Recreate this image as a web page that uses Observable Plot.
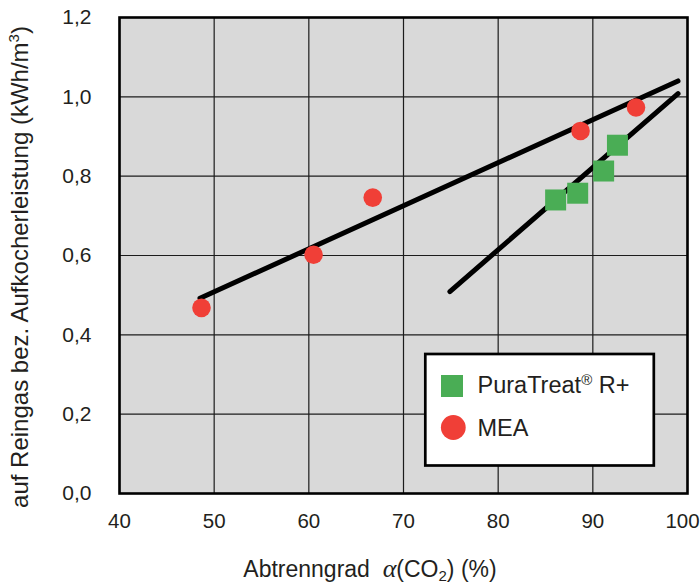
<!DOCTYPE html>
<html><head><meta charset="utf-8">
<script src="https://cdn.jsdelivr.net/npm/d3@7"></script>
<script src="https://cdn.jsdelivr.net/npm/@observablehq/plot@0.6"></script>
<style>
body{margin:0;background:#fff;}
svg{font-family:"Liberation Sans",Arial,Helvetica,sans-serif;}
</style>
</head><body><div id="chart"></div>
<script>
// ---- data ----
const xTicks = [40, 50, 60, 70, 80, 90, 100];
const yTicks = [0, 0.2, 0.4, 0.6, 0.8, 1.0, 1.2];
const seriesNames = ["PuraTreat® R+", "MEA"];
const seriesColors = ["#4aad55", "#f03f37"];
const puraX = [86.07, 88.4, 91.14, 92.6];
const puraY = [0.740, 0.757, 0.813, 0.878];
const meaX = [48.66, 60.5, 66.75, 88.7, 94.56];
const meaY = [0.468, 0.602, 0.746, 0.914, 0.973];
const puraFitX = [74.9, 99.0];
const puraFitY = [0.509, 1.008];
const meaFitX = [48.5, 99.0];
const meaFitY = [0.492, 1.040];

const pura = puraX.map((x, i) => ({x, y: puraY[i]}));
const mea = meaX.map((x, i) => ({x, y: meaY[i]}));
const puraFit = puraFitX.map((x, i) => ({x, y: puraFitY[i]}));
const meaFit = meaFitX.map((x, i) => ({x, y: meaFitY[i]}));

const W = 700, H = 583, mL = 119, mR = 13, mT = 17, mB = 90;
const ink = "#231f20";

const chart = Plot.plot({
  width: W, height: H,
  marginLeft: mL, marginRight: mR, marginTop: mT, marginBottom: mB,
  x: {domain: [40, 100]},
  y: {domain: [0, 1.2]},
  style: {background: "#fff", color: ink, overflow: "visible"},
  marks: [
    Plot.frame({fill: "#d9d9d9", stroke: null}),
    Plot.ruleX(xTicks, {stroke: "#1c1c1c", strokeWidth: 1.2}),
    Plot.ruleY(yTicks, {stroke: "#1c1c1c", strokeWidth: 1.2}),
    Plot.line(meaFit, {x: "x", y: "y", stroke: "#000", strokeWidth: 5, strokeLinecap: "round"}),
    Plot.line(puraFit, {x: "x", y: "y", stroke: "#000", strokeWidth: 5, strokeLinecap: "round"}),
    Plot.dot(pura, {x: "x", y: "y", symbol: "square", r: 11.85, fill: seriesColors[0]}),
    Plot.dot(mea, {x: "x", y: "y", r: 9.3, fill: seriesColors[1]}),
    Plot.frame({stroke: "#000", strokeWidth: 2.6}),
    Plot.axisX({ticks: xTicks.slice(0, -1), tickSize: 0, tickPadding: 20, fontSize: 20.5, label: null, fill: ink}),
    Plot.axisX({ticks: xTicks.slice(-1), tickSize: 0, tickPadding: 20, fontSize: 20.5, label: null, fill: ink, dx: -5}),
    Plot.axisY({ticks: yTicks, tickSize: 0, tickPadding: 28, fontSize: 21, label: null, fill: ink,
      tickFormat: d => d.toFixed(1).replace(".", ",")})
  ]
});

document.getElementById("chart").appendChild(chart);

const svg = d3.select(chart);

// x-axis title
const xt = svg.append("text")
  .attr("x", 370).attr("y", 577)
  .attr("text-anchor", "middle")
  .attr("font-size", 23).attr("fill", ink);
xt.append("tspan").text("Abtrenngrad\u00a0 ");
xt.append("tspan").attr("font-family", "'Liberation Serif','Times New Roman',serif").attr("font-style", "italic").attr("font-size", 26).text("α");
xt.append("tspan").text("(CO");
xt.append("tspan").attr("font-size", 15).attr("dy", 3.5).text("2");
xt.append("tspan").attr("dy", -3.5).text(") (%)");

// y-axis title
const yt = svg.append("text")
  .attr("transform", "translate(28,267) rotate(-90)")
  .attr("text-anchor", "middle")
  .attr("font-size", 24).attr("fill", ink);
yt.append("tspan").text("auf Reingas bez. Aufkocherleistung (kWh/m");
yt.append("tspan").attr("font-size", 15).attr("dy", -9).text("3");
yt.append("tspan").attr("dy", 9).text(")");

// legend
const lg = svg.append("g").attr("text-anchor", "start");
lg.append("rect").attr("x", 425.3).attr("y", 354).attr("width", 228.5).attr("height", 111.5)
  .attr("fill", "#fff").attr("stroke", "#000").attr("stroke-width", 2.7);
lg.append("rect").attr("x", 441).attr("y", 375).attr("width", 22).attr("height", 22)
  .attr("fill", seriesColors[0]);
lg.append("circle").attr("cx", 453.3).attr("cy", 427.5).attr("r", 12.4)
  .attr("fill", seriesColors[1]);
const t1 = lg.append("text").attr("x", 477.5).attr("y", 393.3).attr("font-size", 23.5).attr("fill", ink);
const nm = seriesNames[0].split("®");
t1.append("tspan").text(nm[0]);
t1.append("tspan").attr("font-size", 15).attr("dy", -8).text("®");
t1.append("tspan").attr("dy", 8).text(nm[1]);
lg.append("text").attr("x", 477.5).attr("y", 435.7).attr("font-size", 23.5).attr("fill", ink).text(seriesNames[1]);
</script>
</body></html>
